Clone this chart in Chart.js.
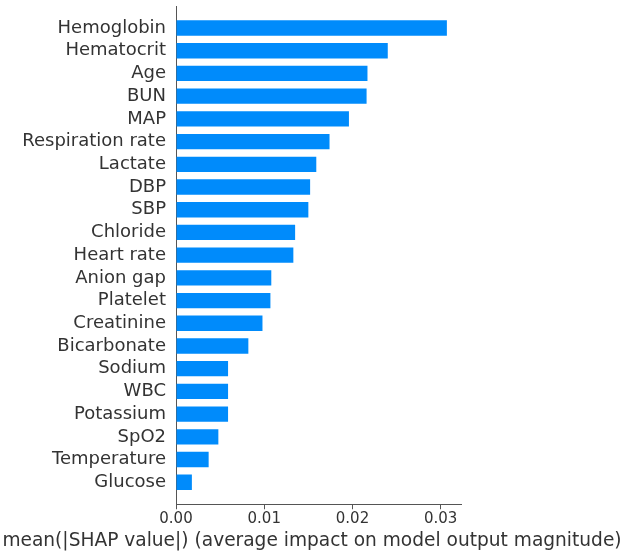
<!DOCTYPE html>
<html>
<head>
<meta charset="utf-8">
<script src="https://cdn.jsdelivr.net/npm/chart.js@4/dist/chart.umd.min.js"></script>
<style>
    html, body { margin: 0; padding: 0; background: #fff; }
    #wrap { width: 624px; height: 552px; position: relative; }
</style>
</head>
<body>
<div id="wrap"><canvas id="shapChart"></canvas></div>
<script>
// Feature names, top to bottom
const features = ['Hemoglobin', 'Hematocrit', 'Age', 'BUN', 'MAP', 'Respiration rate', 'Lactate',
    'DBP', 'SBP', 'Chloride', 'Heart rate', 'Anion gap', 'Platelet', 'Creatinine', 'Bicarbonate',
    'Sodium', 'WBC', 'Potassium', 'SpO2', 'Temperature', 'Glucose'];

// mean(|SHAP value|) per feature
const shapValues = [0.0307, 0.0240, 0.0217, 0.0216, 0.0196, 0.0174, 0.0159,
    0.0152, 0.0150, 0.0135, 0.0133, 0.0108, 0.0107, 0.0098, 0.0082,
    0.0059, 0.0059, 0.0059, 0.0048, 0.0037, 0.0018];

const xTicks = [0, 0.01, 0.02, 0.03];

const axisColor = '#555555';
const textColor = '#333333';
const fontFamily = '"DejaVu Sans", sans-serif';

document.addEventListener('DOMContentLoaded', function() {
    const ctx = document.getElementById('shapChart').getContext('2d');

    const points = features.map((name, i) => ({ x: shapValues[i], y: i }));

    new Chart(ctx, {
        type: 'bar',
        data: {
            datasets: [{
                data: points,
                backgroundColor: '#008bfb',
                borderWidth: 0,
                categoryPercentage: 1,
                barPercentage: 0.675
            }]
        },
        options: {
            indexAxis: 'y',
            responsive: true,
            maintainAspectRatio: false,
            animation: false,
            layout: {
                padding: { top: 6, right: 0, left: 0, bottom: 0 }
            },
            plugins: {
                legend: { display: false },
                tooltip: { enabled: false },
                // used as the x axis title so it can span the full width
                title: {
                    display: true,
                    position: 'bottom',
                    text: 'mean(|SHAP value|) (average impact on model output magnitude)',
                    color: textColor,
                    font: { family: fontFamily, size: 18.6, weight: 'normal' },
                    padding: { top: 0, bottom: 0 }
                }
            },
            scales: {
                y: {
                    type: 'linear',
                    bounds: 'data',
                    offset: false,
                    min: -0.97,
                    max: features.length - 1 + 0.97,
                    reverse: true,
                    afterBuildTicks: function(scale) {
                        scale.ticks = features.map((f, i) => ({ value: i }));
                    },
                    afterFit: function(scale) {
                        scale.width = 176;
                        scale.paddingTop = 0;
                        scale.paddingBottom = 0;
                    },
                    grid: { display: false, drawTicks: false, offset: false },
                    border: { display: true, color: axisColor, width: 1 },
                    ticks: {
                        autoSkip: false,
                        padding: 10,
                        color: textColor,
                        font: { family: fontFamily, size: 18 },
                        callback: function(value) {
                            return features[value];
                        }
                    }
                },
                // empty right-hand box, keeps white space right of the plot
                gap: {
                    type: 'linear',
                    position: 'right',
                    display: true,
                    afterFit: function(scale) {
                        scale.width = 163;
                        scale.paddingTop = 0;
                        scale.paddingBottom = 0;
                    },
                    grid: { display: false, drawTicks: false },
                    border: { display: false },
                    ticks: { display: false }
                },
                x: {
                    type: 'linear',
                    bounds: 'data',
                    min: 0,
                    max: 0.0323,
                    afterBuildTicks: function(scale) {
                        scale.ticks = xTicks.map(v => ({ value: v }));
                    },
                    afterFit: function(scale) {
                        scale.height = 25.4;
                    },
                    grid: {
                        drawOnChartArea: false,
                        drawTicks: true,
                        tickLength: 5,
                        color: axisColor
                    },
                    border: { display: true, color: axisColor, width: 1 },
                    ticks: {
                        autoSkip: false,
                        padding: 1,
                        color: textColor,
                        font: { family: fontFamily, size: 15 },
                        maxRotation: 0,
                        callback: function(value) {
                            return value.toFixed(2);
                        }
                    }
                }
            }
        }
    });
});
</script>
</body>
</html>
